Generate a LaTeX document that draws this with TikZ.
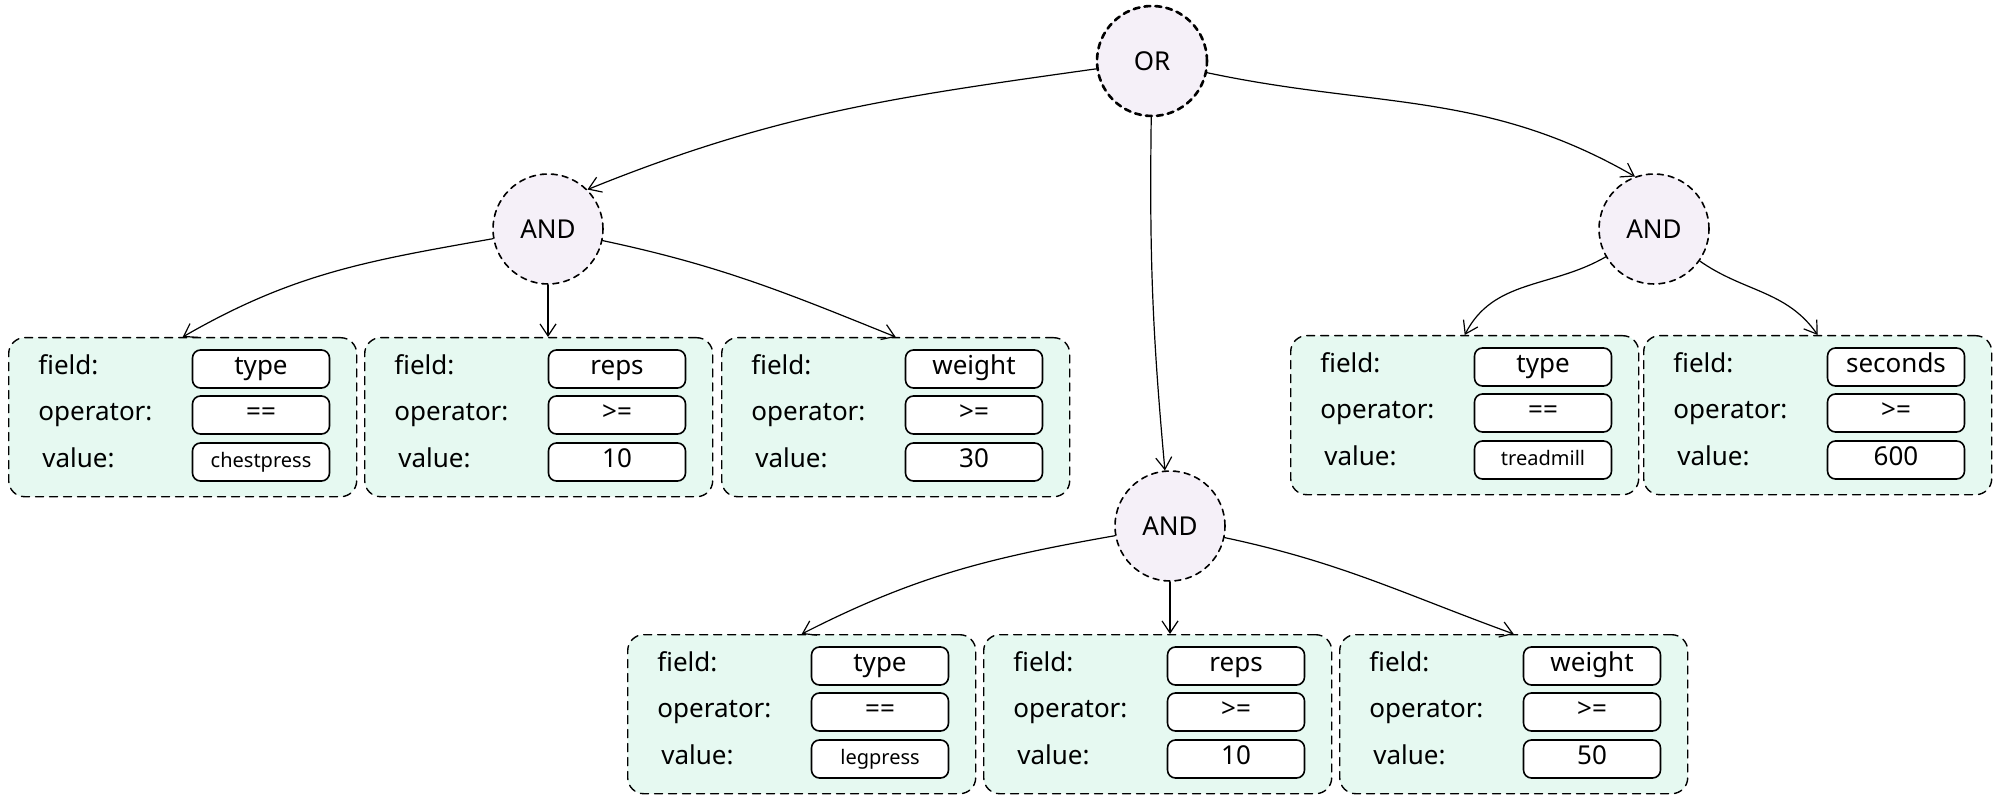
\documentclass[tikz,border=0pt]{standalone}
\usepackage{fontspec}
\setmainfont{Noto Sans}
\usetikzlibrary{arrows.meta}
\definecolor{mint}{HTML}{E6F9F1}
\definecolor{lilac}{HTML}{F5F0F8}
\newcommand\sm{\fontsize{10}{12}\selectfont}
\begin{document}
\begin{tikzpicture}[x=.5pt, y=.5pt, line join=round, line cap=round, font=\fontsize{13}{15}\selectfont,
	gate/.style={circle, draw, fill=lilac, minimum size=55pt, line width=.8pt, dash pattern=on 3pt off 2.5pt},
	cond/.style={draw, fill=mint, rounded corners=8pt, minimum width=174pt, minimum height=79.5pt, anchor=north west, line width=.7pt, dash pattern=on 4pt off 3pt},
	val/.style={draw, fill=white, rounded corners=4pt, minimum width=68.5pt, minimum height=19pt, line width=.8pt, inner sep=0pt, text height=1.55ex, text depth=.45ex},
	lbl/.style={anchor=west, inner sep=0pt, text height=1.55ex, text depth=.45ex},
	arr/.style={-{Straight Barb[length=6pt,width=8pt]}, line width=.6pt}]
	\useasboundingbox (0,0) rectangle (2000,-801);
	% gates
	\node[gate, line width=1.3pt] (or) at (1152,-61) {OR};
	\node[gate] (andL) at (548,-229) {AND};
	\node[gate] (andR) at (1654,-229) {AND};
	\node[gate] (andM) at (1170,-526) {AND};
	% conditions
	\foreach \n/\x/\y/\fld/\op/\val in {b1/8/337/type/==/{\sm chestpress}, b2/364/337/reps/>=/10, b3/721/337/weight/>=/30,
		b4/1290/335/type/==/{\sm treadmill}, b5/1643/335/seconds/>=/600,
		b6/627/634/type/==/{\sm legpress}, b7/983/634/reps/>=/10, b8/1339/634/weight/>=/50}{
		\begin{scope}[shift={(\x,-\y)}]
			\node[cond] (\n) at (0,0) {};
			\node[lbl] (\n-fl) at (30,-32) {field:};
			\node[lbl] (\n-ol) at (30,-78) {operator:};
			\node[lbl] (\n-vl) at (34,-125) {value:};
			\node[val] (\n-f) at (253,-32) {\fld};
			\node[val] (\n-o) at (253,-78) {\op};
			\node[val] (\n-v) at (253,-125) {\val};
		\end{scope}
	}
	\draw[arr] (or) to[out=188,in=22] (andL.north east);
	\draw[arr] (or) to[bend right=3] (andM);
	\draw[arr] (or) to[out=-12,in=150] (andR.110);
	\draw[arr] (andL) to[out=190,in=30] (b1.north);
	\draw[arr] (andL.south) -- (andL.south |- b2.north);
	\draw[arr] (andL) to[out=-12,in=158] (b3.north);
	\draw[arr] (andR) to[out=210,in=63] (b4.north);
	\draw[arr] (andR) to[out=-35,in=125] (b5.north);
	\draw[arr] (andM) to[out=190,in=27] (b6.north);
	\draw[arr] (andM.south) -- (andM.south |- b7.north);
	\draw[arr] (andM) to[out=-12,in=160] (b8.north);
\end{tikzpicture}
\end{document}
